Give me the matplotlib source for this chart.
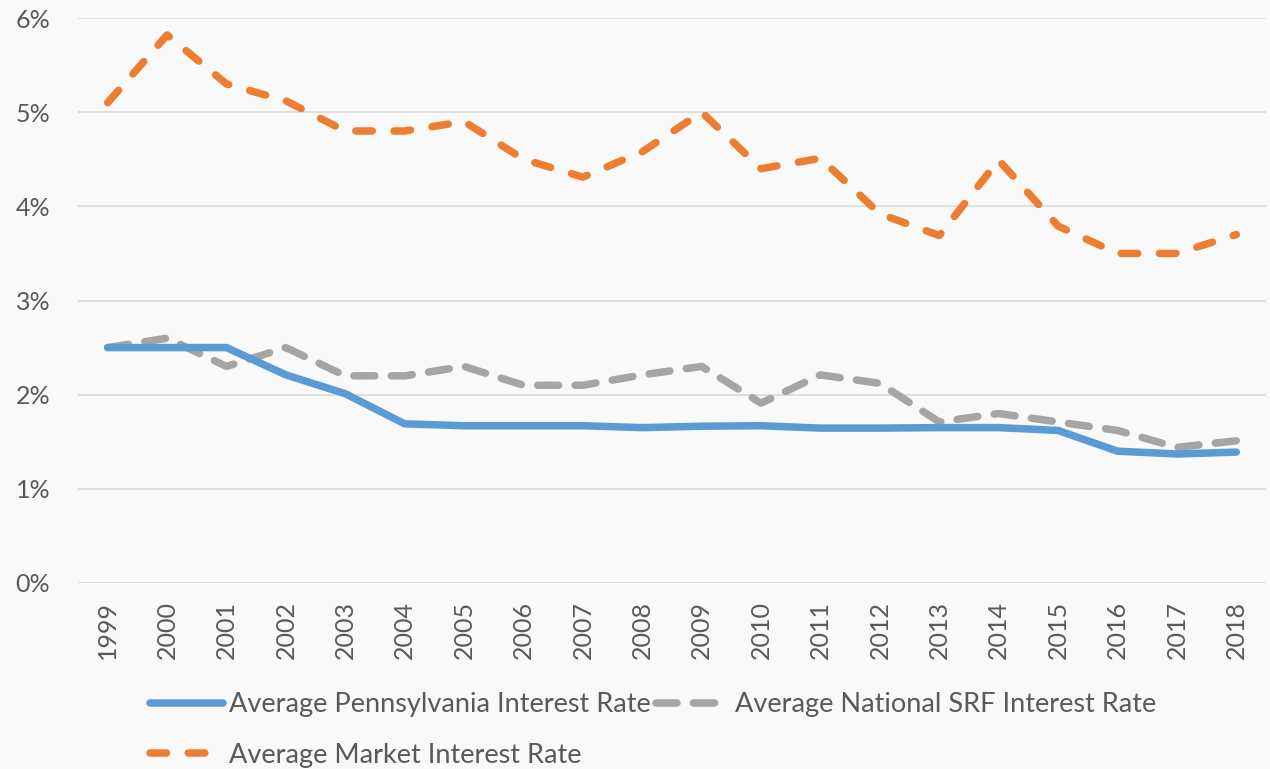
import matplotlib
matplotlib.use("Agg")
import matplotlib.pyplot as plt
from matplotlib.ticker import PercentFormatter

years = [str(y) for y in range(1999, 2019)]
pa_rate = [2.50, 2.50, 2.50, 2.21, 2.01, 1.69, 1.67, 1.67, 1.67, 1.65,
           1.665, 1.67, 1.645, 1.645, 1.65, 1.65, 1.62, 1.40, 1.37, 1.39]
srf_rate = [2.50, 2.60, 2.30, 2.50, 2.20, 2.20, 2.30, 2.10, 2.10, 2.21,
            2.30, 1.91, 2.21, 2.12, 1.71, 1.80, 1.71, 1.62, 1.44, 1.51]
market_rate = [5.10, 5.82, 5.30, 5.12, 4.80, 4.80, 4.90, 4.50, 4.31, 4.58,
               5.00, 4.40, 4.51, 3.92, 3.69, 4.49, 3.79, 3.50, 3.50, 3.70]
y_ticks = [0, 1, 2, 3, 4, 5, 6]

labels = ["Average Pennsylvania Interest Rate",
          "Average National SRF Interest Rate",
          "Average Market Interest Rate"]

plt.rcParams['font.family'] = ['Lato', 'DejaVu Sans']
TXT = '#595959'
BG = '#f9f9f9'

fig = plt.figure(figsize=(12.7, 7.69), dpi=100, facecolor=BG)
ax = fig.add_axes([78/1270, 1-583/769, (1266-78)/1270, (583-18)/769])
ax.set_facecolor(BG)

x = list(range(len(years)))
l_pa, = ax.plot(x, pa_rate, color='#5B9BD5', lw=5.4, solid_capstyle='round',
                solid_joinstyle='round', zorder=3)
l_srf, = ax.plot(x, srf_rate, color='#A5A5A5', lw=5.4, dashes=(2.8, 2.2),
                 dash_capstyle='round', dash_joinstyle='round', zorder=2)
l_mk, = ax.plot(x, market_rate, color='#ED7D31', lw=5.4, dashes=(2.2, 2.9),
                dash_capstyle='round', dash_joinstyle='round', zorder=2)

ax.set_xlim(-0.5, len(years) - 0.5)
ax.set_ylim(0, 6)
ax.set_yticks(y_ticks)
ax.yaxis.set_major_formatter(PercentFormatter(decimals=0))
ax.set_xticks(x)
ax.set_xticklabels(years, rotation=90)
ax.grid(axis='y', color='#D9D9D9', lw=1.2)
ax.set_axisbelow(True)
for s in ax.spines.values():
    s.set_visible(False)
ax.tick_params(axis='both', length=0, labelsize=18, colors=TXT)
ax.tick_params(axis='y', pad=20)
ax.tick_params(axis='x', pad=13)

leg = fig.legend([l_pa, l_mk, l_srf], [labels[0], labels[2], labels[1]],
                 ncol=2, loc='upper left', bbox_to_anchor=(150/1270, 1-692/769),
                 frameon=False, fontsize=19.5, handlelength=2.7, handletextpad=0.22,
                 columnspacing=0.2, labelspacing=0.95, borderpad=0, borderaxespad=0)
for t in leg.get_texts():
    t.set_color(TXT)

fig.savefig('out.png', dpi=100, facecolor=BG)
